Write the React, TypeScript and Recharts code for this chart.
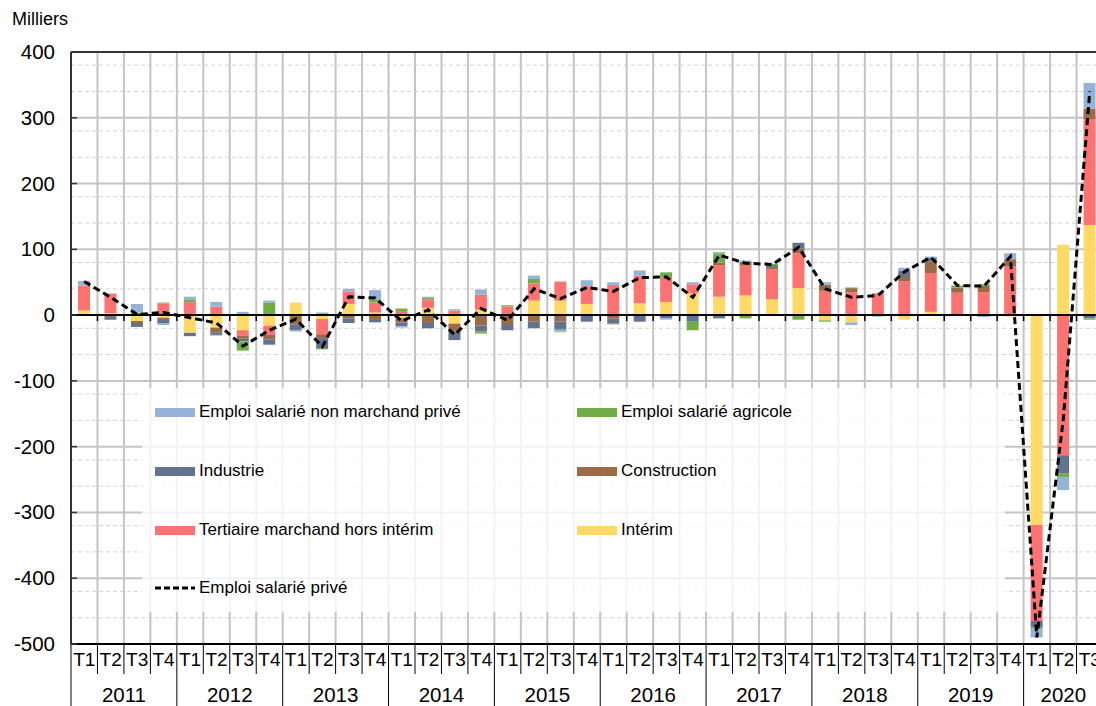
import {
  ComposedChart,
  Bar,
  Line,
  XAxis,
  YAxis,
  CartesianGrid,
  ReferenceLine,
  Legend,
} from "recharts"

const FONT = '"Liberation Sans", Arial, sans-serif'

const YEARS = ["2011", "2012", "2013", "2014", "2015", "2016", "2017", "2018", "2019", "2020"]
const QUARTER_LABELS = ["T1", "T2", "T3", "T4"]
// 2020 stops at T3
const PERIODS = YEARS.flatMap((y) => QUARTER_LABELS.map((q) => `${y} ${q}`)).slice(0, 39)

// milliers
const interim = [7, 3, -9, -4, -27, -19, -23, -16, 19, -6, 17, 4, -5, 11, -13, 8, 0, 22, 22, 17, 0, 18, 20, 33, 28, 30, 24, 41, -8, -11, 0, -7, 5, 0, 0, -2, -319, 107, 137]
const tertiaire = [38, 29, 0, 18, 19, 13, -8, -14, 0, -23, 19, 15, 5, 13, 7, 23, 13, 26, 29, 27, 46, 42, 38, 14, 48, 45, 46, 53, 37, 35, 32, 51, 59, 34, 35, 74, -146, -213, 161]
const construction = [0, -3, -3, -2, 2, -7, -5, -7, -14, -6, -5, -6, -6, -12, -12, -16, -15, -10, -10, 0, -5, 0, 0, 0, 4, 6, 3, 7, 9, 6, 1, 7, 18, 8, 10, 11, 0, 0, 16]
const industrie = [0, -4, -6, -6, -5, -4, -4, -8, -9, -15, -7, -5, -6, -8, -13, -9, -8, -10, -11, -10, -8, -10, -5, -9, -5, 0, 3, 9, 0, 0, 0, 9, 5, 0, 0, 0, -10, -28, -5]
const agricole = [0, 0, 4, 1, 3, -1, -14, 19, 0, -2, 0, 4, 5, 3, 0, -3, 2, 7, -2, 0, -1, 0, 7, -14, 14, -5, 2, -7, -2, 1, -2, 0, 0, 3, 2, 0, -2, -5, -2]
const nonMarchand = [7, 1, 13, -3, 4, 7, 5, 3, -2, 4, 4, 15, -2, 1, 2, 8, 0, 5, -3, 9, 4, 8, -2, 3, 2, 2, 0, 0, 4, -4, 0, 5, 2, 0, -3, 9, -13, -20, 39]
const emploiPrive = [51, 27, 1, 4, -4, -12, -47, -23, -6, -48, 28, 26, -9, 8, -30, 10, -8, 40, 25, 42, 36, 57, 58, 27, 91, 79, 77, 103, 40, 27, 30, 66, 88, 45, 44, 89, -490, -158, 340]

const Y_TICKS = [-500, -400, -300, -200, -100, 0, 100, 200, 300, 400]
const Y_MINOR = [-480, -460, -440, -420, -380, -360, -340, -320, -280, -260, -240, -220, -180, -160, -140, -120, -80, -60, -40, -20, 20, 40, 60, 80, 120, 140, 160, 180, 220, 240, 260, 280, 320, 340, 360, 380]

const SERIES = [
  { key: "nonMarchand", name: "Emploi salarié non marchand privé", color: "#95b3d7" },
  { key: "agricole", name: "Emploi salarié agricole", color: "#70ad47" },
  { key: "industrie", name: "Industrie", color: "#62728f" },
  { key: "construction", name: "Construction", color: "#9c6a46" },
  { key: "tertiaire", name: "Tertiaire marchand hors intérim", color: "#ff7272" },
  { key: "interim", name: "Intérim", color: "#ffd966" },
]

const data = PERIODS.map((p, i) => ({
  period: p,
  year: p.slice(0, 4),
  quarter: p.slice(5),
  interim: interim[i],
  tertiaire: tertiaire[i],
  construction: construction[i],
  industrie: industrie[i],
  agricole: agricole[i],
  nonMarchand: nonMarchand[i],
  emploiPrive: emploiPrive[i],
}))

const CHART_W = 1110
const CHART_H = 706
const MARGIN = { top: 52, right: 7, bottom: 0, left: 0 }
const Y_AXIS_W = 71
const X_AXIS_H = 62
const BAND = (CHART_W - MARGIN.right - Y_AXIS_W) / PERIODS.length

function YTick(props: any) {
  const { x, y, payload } = props
  const axisX = x + 16
  return (
    <g>
      <text x={x} y={y} dy={7} textAnchor="end" fontSize={20.5} fontFamily={FONT} fill="#000">
        {payload.value}
      </text>
      <line x1={axisX} x2={axisX + 6} y1={y} y2={y} stroke="#333" strokeWidth={1.5} />
    </g>
  )
}

function QuarterTick(props: any) {
  const { x, y, payload } = props
  const i = props.index ?? payload.index
  const half = payload.offset || BAND / 2
  const left = x - half
  const row = data[i]
  const yearStart = row.quarter === "T1"
  const nInYear = data.filter((d) => d.year === row.year).length
  return (
    <g>
      <line x1={left} x2={left} y1={y} y2={yearStart ? y + X_AXIS_H : y + 30} stroke="#000" strokeWidth={1} />
      <text x={x} y={y + 22} textAnchor="middle" fontSize={19} fontFamily={FONT} fill="#000">
        {row.quarter}
      </text>
      {yearStart && (
        <text x={left + nInYear * half} y={y + 58} textAnchor="middle" fontSize={20.5} fontFamily={FONT} fill="#000">
          {row.year}
        </text>
      )}
    </g>
  )
}

function ZeroLine(props: any) {
  const { x1, x2, y1 } = props
  const step = (x2 - x1) / PERIODS.length
  return (
    <g>
      <line x1={x1} x2={x2} y1={y1} y2={y1} stroke="#000" strokeWidth={2} />
      {PERIODS.map((_, i) => (
        <line key={i} x1={x1 + i * step} x2={x1 + i * step} y1={y1} y2={y1 + 6} stroke="#000" strokeWidth={1.5} />
      ))}
    </g>
  )
}

function LegendBox() {
  const rows = [24, 83, 142, 200]
  return (
    <div style={{ position: "relative", width: "100%", height: "100%", fontFamily: FONT, fontSize: 17, color: "#000" }}>
      {SERIES.map((s, i) => (
        <div
          key={s.key}
          style={{
            position: "absolute",
            left: i % 2 ? 435 : 13,
            top: rows[Math.floor(i / 2)] - 11,
            height: 22,
            display: "flex",
            alignItems: "center",
            whiteSpace: "nowrap",
          }}
        >
          <span style={{ display: "inline-block", width: 40, height: 9, background: s.color, marginRight: 4 }} />
          {s.name}
        </div>
      ))}
      <div
        style={{
          position: "absolute",
          left: 13,
          top: rows[3] - 11,
          height: 22,
          display: "flex",
          alignItems: "center",
          whiteSpace: "nowrap",
        }}
      >
        <svg width={40} height={6} style={{ marginRight: 4 }}>
          <line x1={0} x2={40} y1={3} y2={3} stroke="#000" strokeWidth={3} strokeDasharray="6 3" />
        </svg>
        Emploi salarié privé
      </div>
    </div>
  )
}

export default function App() {
  return (
    <div
      style={{
        position: "absolute",
        left: 0,
        top: 0,
        width: 1096,
        height: 706,
        overflow: "hidden",
        background: "#fff",
        fontFamily: FONT,
      }}
    >
      <div style={{ position: "absolute", left: 12, top: 9, fontSize: 18, color: "#000" }}>Milliers</div>
      <ComposedChart width={CHART_W} height={CHART_H} data={data} margin={MARGIN} stackOffset="sign">
        <CartesianGrid vertical={false} horizontalValues={Y_MINOR} stroke="#d4d4d4" strokeDasharray="4 3" />
        <CartesianGrid
          horizontalValues={Y_TICKS}
          verticalCoordinatesGenerator={({ offset }: any) =>
            PERIODS.map((_, i) => offset.left + (i * offset.width) / PERIODS.length)
          }
          stroke="#c4c4c4"
          strokeWidth={2}
        />
        <XAxis
          dataKey="period"
          height={X_AXIS_H}
          interval={0}
          tickSize={0}
          tickMargin={0}
          tickLine={false}
          axisLine={{ stroke: "#000", strokeWidth: 2 }}
          tick={<QuarterTick />}
        />
        <YAxis
          type="number"
          domain={[-500, 400]}
          ticks={Y_TICKS}
          width={Y_AXIS_W}
          tickSize={0}
          tickMargin={16}
          tickLine={false}
          axisLine={{ stroke: "#333", strokeWidth: 2 }}
          tick={<YTick />}
        />
        {[...SERIES].reverse().map((s) => (
          <Bar
            key={s.key}
            dataKey={s.key}
            name={s.name}
            stackId="emploi"
            fill={s.color}
            barSize={12}
            isAnimationActive={false}
          />
        ))}
        <ReferenceLine y={400} stroke="#333" strokeWidth={2} />
        <ReferenceLine y={0} shape={<ZeroLine />} />
        <Line
          dataKey="emploiPrive"
          name="Emploi salarié privé"
          type="linear"
          stroke="#000"
          strokeWidth={3}
          strokeDasharray="7 4"
          dot={false}
          activeDot={false}
          isAnimationActive={false}
        />
        <Legend
          layout="horizontal"
          verticalAlign="middle"
          align="center"
          content={() => <LegendBox />}
          wrapperStyle={{
            left: 142,
            top: 388,
            width: 863,
            height: 224,
            background: "rgba(255,255,255,0.8)",
          }}
        />
      </ComposedChart>
    </div>
  )
}
